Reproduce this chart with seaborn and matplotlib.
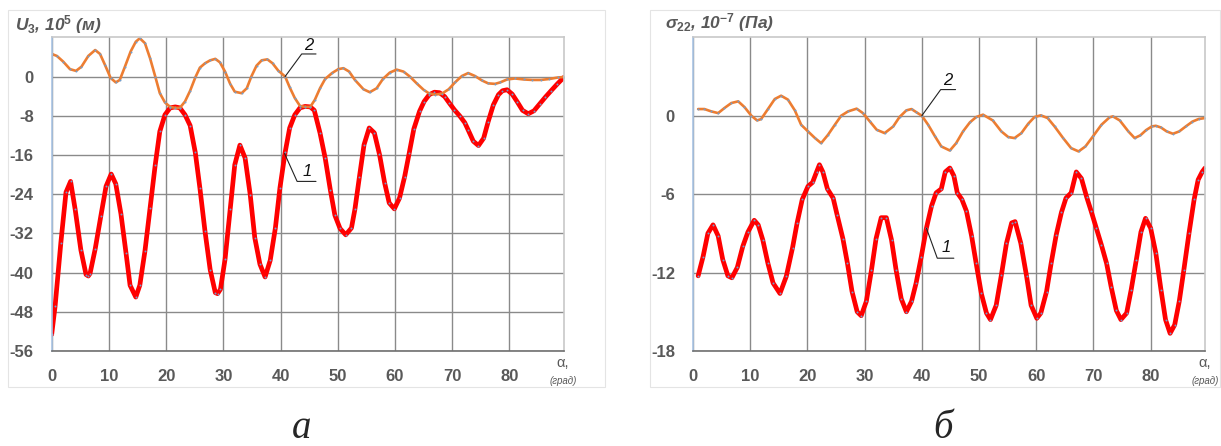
import matplotlib
matplotlib.use("Agg")
import matplotlib.pyplot as plt
from matplotlib.patches import Rectangle
import seaborn as sns

sns.set_theme(style="white")
plt.rcParams['font.family'] = ['Liberation Sans', 'DejaVu Sans']
plt.rcParams['mathtext.fontset'] = 'custom'
plt.rcParams['mathtext.it'] = 'Liberation Sans:italic:bold'
plt.rcParams['mathtext.rm'] = 'Liberation Sans:bold'
plt.rcParams['mathtext.bf'] = 'Liberation Sans:bold'
plt.rcParams['lines.solid_joinstyle'] = 'round'
plt.rcParams['lines.solid_capstyle'] = 'round'

# --- panel a: U3 ---
u_x1 = [0, 0.6, 1.6, 2.5, 3.3, 4.1, 5.1, 6.0, 6.4, 6.7, 7.6, 8.6, 9.5, 10.4, 11.2, 12.1, 13.0, 13.7,
        14.7, 15.4, 16.3, 17.2, 18.1, 18.9, 19.8, 20.7, 21.6, 22.4, 23.3, 24.2, 25.1, 25.9, 26.8, 27.7,
        28.6, 29.0, 29.5, 30.3, 31.2, 32.0, 32.9, 33.8, 34.7, 35.5, 36.4, 37.3, 38.2, 39.1, 39.9, 40.8,
        41.6, 42.5, 43.4, 44.3, 45.2, 45.9, 46.9, 47.8, 48.7, 49.5, 50.4, 51.4, 52.4, 53.0, 53.8, 54.6,
        55.5, 56.4, 57.3, 58.2, 59.0, 59.9, 60.8, 61.7, 62.5, 63.3, 64.3, 65.1, 66.0, 66.9, 67.8, 68.7,
        69.5, 70.4, 71.3, 72.2, 72.8, 73.7, 74.6, 75.5, 76.3, 77.2, 78.1, 78.8, 79.6, 80.5, 81.4, 82.3,
        83.3, 84.3, 85.3, 86.3, 87.3, 88.4, 89.5]
u_y1 = [-52.6, -46.8, -33.9, -23.6, -21.4, -27.1, -35.4, -40.4, -40.7, -40.2, -35.2, -28.4, -22.4, -19.9,
        -21.9, -28.0, -36.1, -42.6, -45.0, -42.6, -35.6, -26.8, -18.0, -11.2, -7.8, -6.4, -6.2, -6.4,
        -7.8, -10.0, -15.5, -22.7, -31.6, -39.4, -44.1, -44.3, -43.4, -37.3, -27.1, -18.0, -14.0, -16.6,
        -24.1, -32.9, -38.3, -40.9, -37.5, -30.9, -22.7, -15.5, -10.5, -7.8, -6.4, -6.1, -6.2, -6.9,
        -11.5, -16.6, -23.1, -28.3, -31.0, -32.3, -30.9, -27.1, -20.4, -13.9, -10.5, -11.5, -15.9, -21.7,
        -25.8, -27.0, -24.8, -20.4, -15.6, -10.7, -7.1, -5.1, -3.7, -3.2, -3.3, -4.1, -5.4, -6.8, -8.0,
        -9.4, -10.9, -13.2, -14.1, -12.6, -9.2, -5.8, -3.7, -2.9, -2.7, -3.6, -5.2, -6.9, -7.6, -7.0,
        -5.6, -4.2, -2.9, -1.5, -0.2]

u_x2 = [0, 0.9, 2.0, 3.2, 4.25, 5.2, 6.4, 7.6, 8.45, 9.3, 10.3, 11.2, 11.9, 12.8, 13.8, 14.7, 15.4, 16.3,
        17.2, 18.1, 18.9, 19.8, 20.7, 21.6, 22.4, 23.3, 24.2, 25.1, 25.9, 26.8, 27.7, 28.6, 29.4, 30.3,
        31.2, 32.0, 33.2, 34.1, 34.9, 35.8, 36.7, 37.7, 38.6, 39.6, 40.8, 41.6, 42.5, 43.4, 44.3, 45.2,
        46.0, 46.9, 47.8, 49.0, 50.1, 51.0, 52.0, 53.0, 54.5, 55.6, 56.8, 57.9, 59.1, 60.3, 61.5, 62.6,
        63.8, 65.0, 65.9, 67.0, 68.2, 69.4, 70.5, 71.7, 72.8, 74.0, 75.2, 76.3, 77.5, 78.4, 79.6, 81.0,
        82.5, 84.0, 85.5, 87.0, 88.5, 89.5]
u_y2 = [4.6, 4.2, 3.05, 1.5, 1.15, 2.0, 4.2, 5.4, 4.6, 2.4, -0.3, -1.2, -0.7, 2.0, 5.1, 7.1, 7.8, 6.8,
        3.7, 0.0, -3.4, -5.3, -6.2, -6.4, -6.4, -5.1, -2.9, -0.2, 1.8, 2.7, 3.3, 3.6, 2.9, 1.0, -1.5,
        -3.1, -3.4, -2.4, 0.0, 2.2, 3.3, 3.5, 2.7, 1.2, 0.0, -2.2, -4.4, -6.0, -6.2, -6.2, -4.75, -2.4,
        -0.5, 0.7, 1.5, 1.7, 1.0, -0.7, -2.6, -3.2, -2.4, -0.5, 0.8, 1.4, 1.0, 0.0, -1.4, -2.7, -3.4,
        -3.7, -3.5, -2.6, -1.2, 0.1, 0.7, 0.1, -0.8, -1.4, -1.5, -1.2, -0.6, -0.4, -0.6, -0.7, -0.7,
        -0.5, -0.2, -0.1]

# --- panel б: sigma22 ---
s_x1 = [0.9, 1.75, 2.6, 3.5, 4.4, 5.2, 6.1, 6.8, 7.75, 8.7, 9.6, 10.7, 11.4, 12.2, 13.1, 14.0, 15.2, 16.3,
        17.4, 18.2, 19.1, 20.1, 20.9, 21.6, 22.1, 22.7, 23.5, 24.5, 25.2, 26.2, 27.0, 27.8, 28.7, 29.4,
        30.3, 31.2, 32.0, 32.9, 33.8, 34.7, 35.5, 36.4, 37.3, 38.2, 39.0, 39.9, 40.8, 41.7, 42.5, 43.4,
        44.1, 44.9, 45.6, 46.2, 47.0, 47.8, 48.7, 49.5, 50.4, 51.3, 52.0, 53.0, 53.9, 54.8, 55.7, 56.3,
        57.3, 58.3, 59.1, 60.1, 60.8, 61.8, 62.6, 63.5, 64.4, 65.2, 66.1, 67.0, 67.9, 68.8, 69.6, 70.5,
        71.4, 72.3, 73.1, 74.0, 74.8, 75.8, 76.6, 77.5, 78.3, 79.1, 80.0, 80.9, 81.8, 82.6, 83.4, 84.2,
        85.0, 85.8, 86.7, 87.6, 88.3, 89.0, 89.5]
s_y1 = [-12.25, -10.8, -9.0, -8.35, -9.2, -11.0, -12.25, -12.4, -11.6, -10.0, -8.9, -8.0, -8.35, -9.5,
        -11.3, -12.8, -13.6, -12.3, -10.1, -8.2, -6.4, -5.4, -5.1, -4.3, -3.75, -4.3, -5.6, -6.3, -7.6,
        -9.4, -11.3, -13.45, -15.0, -15.3, -14.2, -11.8, -9.4, -7.8, -7.8, -9.5, -11.8, -14.0, -15.0,
        -14.2, -12.8, -10.8, -8.6, -6.9, -5.9, -5.6, -4.3, -4.0, -4.6, -5.9, -6.4, -7.3, -9.2, -11.3,
        -13.6, -15.1, -15.6, -14.5, -12.2, -9.75, -8.2, -8.1, -9.75, -12.25, -14.5, -15.5, -15.1, -13.45,
        -11.3, -9.1, -7.4, -6.3, -5.9, -4.3, -4.8, -6.2, -7.3, -8.6, -9.9, -11.3, -13.1, -14.9, -15.6,
        -15.1, -13.3, -11.0, -8.9, -7.85, -8.6, -10.5, -13.3, -15.6, -16.65, -16.0, -14.2, -11.8, -9.0,
        -6.4, -4.9, -4.3, -4.0]

s_x2 = [0.9, 2.0, 3.2, 4.4, 5.5, 6.7, 7.9, 9.0, 10.2, 11.2, 11.9, 13.1, 14.3, 15.4, 16.6, 17.8, 18.9,
        20.1, 21.3, 22.4, 23.6, 24.8, 25.9, 27.1, 28.6, 29.7, 30.9, 32.1, 33.5, 35.0, 36.1, 37.3, 38.2,
        39.0, 40.0, 41.1, 42.3, 43.4, 44.9, 46.0, 47.2, 48.4, 49.5, 50.7, 52.4, 53.9, 55.1, 56.2, 57.4,
        58.6, 59.7, 60.8, 62.0, 63.2, 64.7, 66.1, 67.4, 68.6, 70.0, 71.4, 72.8, 73.4, 74.6, 76.1, 77.2,
        78.2, 79.2, 80.2, 80.9, 81.8, 82.8, 83.9, 85.0, 86.2, 87.3, 88.4, 89.5]
s_y2 = [0.51, 0.51, 0.33, 0.2, 0.59, 0.97, 1.1, 0.66, 0.0, -0.36, -0.26, 0.51, 1.28, 1.53, 1.23, 0.41,
        -0.69, -1.2, -1.7, -2.1, -1.46, -0.69, 0.0, 0.33, 0.54, 0.2, -0.43, -1.07, -1.33, -0.82, -0.1,
        0.41, 0.51, 0.28, 0.0, -0.69, -1.58, -2.35, -2.66, -2.1, -1.2, -0.51, -0.1, 0.08, -0.36, -1.2,
        -1.63, -1.71, -1.33, -0.61, -0.1, 0.03, -0.18, -0.82, -1.71, -2.48, -2.73, -2.35, -1.53, -0.69,
        -0.13, -0.05, -0.36, -1.2, -1.71, -1.5, -1.1, -0.82, -0.77, -0.9, -1.2, -1.38, -1.2, -0.8, -0.45,
        -0.25, -0.18]

x_ticks = [0, 10, 20, 30, 40, 50, 60, 70, 80]
u_ticks = [0, -8, -16, -24, -32, -40, -48, -56]
s_ticks = [0, -6, -12, -18]

RED = '#ff0000'
ORANGE = '#ed7d31'
GRAY = '#595959'

fig = plt.figure(figsize=(12.21, 4.46), dpi=100)

# faint chart-area frames
fig.patches.append(Rectangle((8 / 1221, 1 - 387 / 446), (605 - 8) / 1221, (387 - 10) / 446,
                             transform=fig.transFigure, fill=False, ec='#e4e4e4', lw=0.8))
fig.patches.append(Rectangle((650 / 1221, 1 - 387 / 446), (1220 - 650) / 1221, (387 - 10) / 446,
                             transform=fig.transFigure, fill=False, ec='#e4e4e4', lw=0.8))

ax1 = fig.add_axes([51.7 / 1221, 1 - 351 / 446, 512 / 1221, 313.7 / 446])
ax2 = fig.add_axes([693 / 1221, 1 - 351 / 446, 512 / 1221, 313.7 / 446])


def style_axes(ax, ylim, yticks):
    ax.set_xlim(0, 89.5)
    ax.set_ylim(*ylim)
    ax.set_xticks(x_ticks)
    ax.set_yticks(yticks)
    ax.set_xticklabels([str(t) for t in x_ticks])
    ax.set_yticklabels([str(t) for t in yticks])
    ax.tick_params(length=0, pad=13, labelsize=12, labelcolor=GRAY)
    for lab in ax.get_xticklabels() + ax.get_yticklabels():
        lab.set_fontweight('bold')
    ax.grid(True, color='#8a8a8a', lw=1.0)
    ax.set_axisbelow(True)
    ax.spines['left'].set_color('#a9c4e4')
    ax.spines['bottom'].set_color('#6f6f6f')
    ax.spines['top'].set_color('#c8c8c8')
    ax.spines['right'].set_color('#c8c8c8')
    for s in ax.spines.values():
        s.set_linewidth(1.2)
    ax.set_xlabel('')
    ax.set_ylabel('')


def draw(ax, x, y, color, lw):
    sns.lineplot(x=x, y=y, ax=ax, color=color, lw=lw, estimator=None, sort=False,
                 marker='o', markersize=1.4, markeredgewidth=0, markerfacecolor='#6f9fd0')


draw(ax1, u_x1, u_y1, RED, 3.4)
draw(ax1, u_x2, u_y2, ORANGE, 1.9)
style_axes(ax1, (-56, 8), u_ticks)

draw(ax2, s_x1, s_y1, RED, 3.4)
draw(ax2, s_x2, s_y2, ORANGE, 1.9)
style_axes(ax2, (-18, 6), s_ticks)


def leader(ax, pt, elbow, end, text_xy, label):
    ax.plot([pt[0], elbow[0], end], [pt[1], elbow[1], elbow[1]], color='#222222', lw=0.8)
    ax.text(text_xy[0], text_xy[1], label, fontsize=12, style='italic', color='#111111',
            ha='center', va='center')


leader(ax1, (40.8, 0.0), (43.7, 4.6), 46.2, (45.0, 6.3), '2')
leader(ax1, (40.7, -15.7), (42.9, -21.4), 46.2, (44.6, -19.3), '1')
leader(ax2, (40.0, 0.0), (43.3, 2.0), 45.9, (44.6, 2.7), '2')
leader(ax2, (40.8, -8.6), (42.7, -10.9), 45.6, (44.3, -10.1), '1')

# axis titles
fig.text(15 / 1221, 1 - 25 / 446, r'$U_3$, 10$^5$ (м)', fontsize=12.5, color=GRAY,
         style='italic', weight='bold', ha='left', va='center')
fig.text(665 / 1221, 1 - 23 / 446, r'$\sigma_{22}$, 10$^{-7}$ (Па)', fontsize=12.5, color=GRAY,
         style='italic', weight='bold', ha='left', va='center')

for xc in (563, 1205):
    fig.text(xc / 1221, 1 - 363 / 446, 'α,', fontsize=10.5, color=GRAY, ha='center', va='center')
    fig.text(xc / 1221, 1 - 381 / 446, '(град)', fontsize=7, color=GRAY, style='italic',
             ha='center', va='center')

fig.text(302 / 1221, 1 - 438 / 446, 'а', fontsize=28, family='Liberation Serif', style='italic',
         ha='center', va='baseline')
fig.text(943 / 1221, 1 - 438 / 446, 'б', fontsize=28, family='Liberation Serif', style='italic',
         ha='center', va='baseline')

fig.savefig('out.png', dpi=100, facecolor='white')
